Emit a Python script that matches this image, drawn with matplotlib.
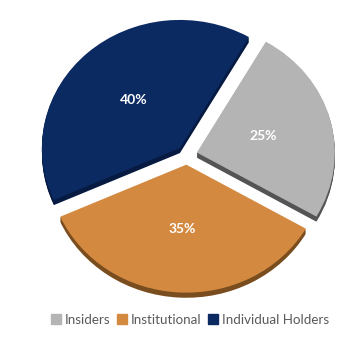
import matplotlib.pyplot as plt

labels = ['Insiders', 'Institutional', 'Individual Holders']
shares = [25, 35, 40]
colors = ['#b4b4b4', '#d38a40', '#0b2a62']
side_colors = ['#545454', '#7a4d1e', '#061a42']

plt.rcParams['font.family'] = ['Lato', 'DejaVu Sans']

fig = plt.figure(figsize=(3.59, 3.52), dpi=100)
ax = fig.add_axes([0.040, 0.105, 0.961, 0.909])

explode = [0.075] * len(shares)

# shadow layer (gives the slices a bit of thickness)
for k in range(5):
    ax.pie(shares, colors=side_colors, explode=explode, startangle=60,
           counterclock=False, center=(0, -0.008 * (k + 1)),
           wedgeprops=dict(linewidth=0))

wedges, texts, autotexts = ax.pie(
    shares, colors=colors, explode=explode, startangle=60,
    counterclock=False, autopct='%d%%', pctdistance=0.5,
    wedgeprops=dict(linewidth=0),
    textprops=dict(color='white', fontsize=10, fontweight='bold'))

ax.set_aspect('auto')
ax.set_xlim(-1.25, 1.25)
ax.set_ylim(-1.25, 1.25)

handles = [plt.Rectangle((0, 0), 1, 1, color=c) for c in colors]
fig.legend(handles, labels, loc='center', bbox_to_anchor=(190 / 359, 1 - 320 / 352),
           ncol=3, frameon=False, fontsize=9.6, handlelength=0.75, handleheight=0.75,
           handletextpad=0.3, columnspacing=0.5, labelcolor='#595959')

fig.savefig('out.png', dpi=100)
